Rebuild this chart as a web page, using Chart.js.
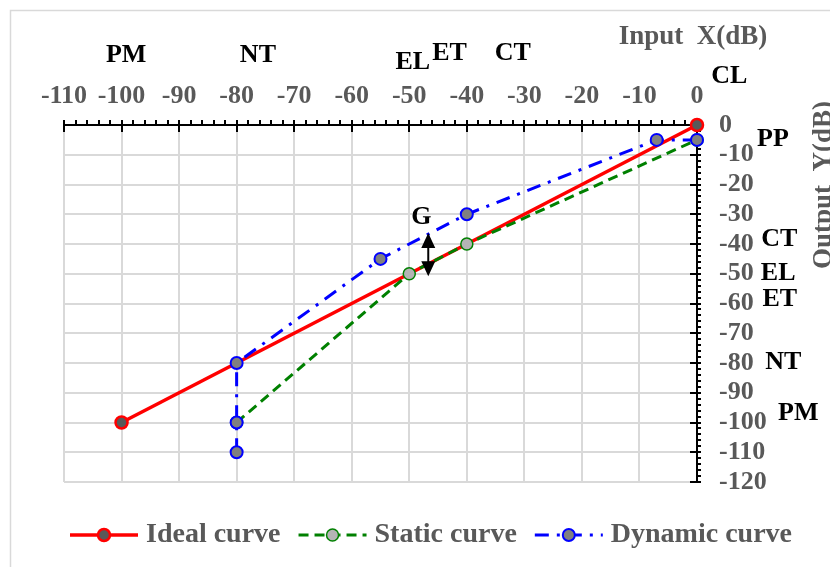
<!DOCTYPE html>
<html>
<head>
<meta charset="utf-8">
<title>Input / Output curves</title>
<script src="https://cdn.jsdelivr.net/npm/chart.js@4.4.1/dist/chart.umd.min.js"></script>
<style>
  html, body { margin: 0; padding: 0; background: #ffffff; }
  #wrap { width: 830px; height: 567px; position: relative; }
</style>
</head>
<body>
<div id="wrap"><canvas id="chart" width="830" height="567"></canvas></div>
<script>
// ---- data -------------------------------------------------------------
const seriesNames = ['Ideal curve', 'Static curve', 'Dynamic curve'];

const idealX = [-100, 0];
const idealY = [-100, 0];

const staticX = [-80, -50, -40, 0];
const staticY = [-100, -50, -40, -5];

const dynamicX = [-80, -80, -80, -55, -40, -7, 0];
const dynamicY = [-110, -100, -80, -45, -30, -5, -5];

const xTickValues = [-110, -100, -90, -80, -70, -60, -50, -40, -30, -20, -10, 0];
const yTickValues = [0, -10, -20, -30, -40, -50, -60, -70, -80, -90, -100, -110, -120];

const xTitle = 'Input  X(dB)';
const yTitle = 'Output  Y(dB)';

// region names marked along each axis, and the gap marker
const topNames = ['PM', 'NT', 'EL', 'ET', 'CT', 'CL'];
const sideNames = ['PP', 'CT', 'EL', 'ET', 'NT', 'PM'];
const gapName = 'G';

// ---- placement of the annotations (in axis units) ----------------------
const topNamePos = [[-99.2, 23.5], [-76.3, 23.5], [-49.4, 21.2], [-43.0, 24.2], [-32.0, 24.2], [5.6, 16.5]];
const sideNamePos = [[13.2, -4.7], [14.3, -38.3], [14.1, -49.7], [14.4, -58.5], [15.0, -79.7], [17.6, -96.8]];
const gapLabelPos = [-47.9, -31.0];
const gapArrow = { x: -46.7, from: -36.3, to: -50.8 };

const SERIF = '"Liberation Serif", "Times New Roman", serif';
const GREY_TEXT = '#595959';
const GRID = '#d9d9d9';

const toPoints = (xs, ys) => xs.map((x, i) => ({ x: x, y: ys[i] }));

const datasets = [
  {
    label: seriesNames[0],
    data: toPoints(idealX, idealY),
    borderColor: '#ff0000',
    borderWidth: 3.5,
    pointRadius: 6,
    pointBorderWidth: 2.5,
    pointBackgroundColor: '#595959',
    pointBorderColor: '#ff0000',
    clip: false,
    order: 3
  },
  {
    label: seriesNames[1],
    data: toPoints(staticX, staticY),
    borderColor: '#008000',
    borderWidth: 3,
    borderDash: [10, 6],
    pointRadius: 6,
    pointBorderWidth: 1.5,
    pointBackgroundColor: '#b4b4b4',
    pointBorderColor: '#008000',
    clip: false,
    order: 2
  },
  {
    label: seriesNames[2],
    data: toPoints(dynamicX, dynamicY),
    borderColor: '#0000ff',
    borderWidth: 3,
    borderDash: [14, 8, 3, 8],
    pointRadius: 6,
    pointBorderWidth: 2,
    pointBackgroundColor: '#808080',
    pointBorderColor: '#0000ff',
    clip: false,
    order: 1
  }
];

// outer frame of the chart
const framePlugin = {
  id: 'frame',
  beforeDraw(chart) {
    const ctx = chart.ctx;
    ctx.save();
    ctx.fillStyle = '#ffffff';
    ctx.fillRect(0, 0, chart.width, chart.height);
    ctx.strokeStyle = GRID;
    ctx.lineWidth = 1.5;
    ctx.strokeRect(10.5, 10.5, chart.width + 40, chart.height + 40);
    ctx.restore();
  }
};

// axis lines with crossing major ticks and outside minor ticks
const axisPlugin = {
  id: 'axisTicks',
  beforeDatasetsDraw(chart) {
    const ctx = chart.ctx;
    const xs = chart.scales.x, ys = chart.scales.y;
    const a = chart.chartArea;
    ctx.save();
    ctx.strokeStyle = '#000000';
    ctx.lineWidth = 2;
    ctx.lineCap = 'butt';
    ctx.beginPath();
    // top axis
    ctx.moveTo(a.left, a.top);
    ctx.lineTo(a.right, a.top);
    for (let v = xs.min; v <= xs.max + 1e-9; v += 2) {
      const px = Math.round(xs.getPixelForValue(v));
      const major = Math.abs(v % 10) < 1e-9;
      ctx.moveTo(px, a.top - 5);
      ctx.lineTo(px, major ? a.top + 7 : a.top);
    }
    // right axis
    ctx.moveTo(a.right, a.top);
    ctx.lineTo(a.right, a.bottom);
    for (let v = ys.max; v >= ys.min - 1e-9; v -= 2) {
      const py = Math.round(ys.getPixelForValue(v));
      const major = Math.abs(v % 10) < 1e-9;
      ctx.moveTo(major ? a.right - 7 : a.right, py);
      ctx.lineTo(a.right + 4, py);
    }
    ctx.stroke();
    ctx.restore();
  }
};

// names, gap arrow, titles and legend
const notesPlugin = {
  id: 'notes',
  afterDatasetsDraw(chart) {
    const ctx = chart.ctx;
    const xs = chart.scales.x, ys = chart.scales.y;
    ctx.save();

    ctx.fillStyle = '#000000';
    ctx.font = 'bold 26px ' + SERIF;
    ctx.textAlign = 'center';
    ctx.textBaseline = 'middle';
    topNames.forEach((t, i) => {
      ctx.fillText(t, xs.getPixelForValue(topNamePos[i][0]), ys.getPixelForValue(topNamePos[i][1]));
    });
    sideNames.forEach((t, i) => {
      ctx.fillText(t, xs.getPixelForValue(sideNamePos[i][0]), ys.getPixelForValue(sideNamePos[i][1]));
    });
    ctx.fillText(gapName, xs.getPixelForValue(gapLabelPos[0]), ys.getPixelForValue(gapLabelPos[1]));

    // double-headed arrow
    const ax = xs.getPixelForValue(gapArrow.x);
    const ay1 = ys.getPixelForValue(gapArrow.from);
    const ay2 = ys.getPixelForValue(gapArrow.to);
    const head = 15, half = 7;
    ctx.strokeStyle = '#000000';
    ctx.lineWidth = 2;
    ctx.beginPath();
    ctx.moveTo(ax, ay1 + head - 1);
    ctx.lineTo(ax, ay2 - head + 1);
    ctx.stroke();
    ctx.beginPath();
    ctx.moveTo(ax, ay1);
    ctx.lineTo(ax - half, ay1 + head);
    ctx.lineTo(ax + half, ay1 + head);
    ctx.closePath();
    ctx.moveTo(ax, ay2);
    ctx.lineTo(ax - half, ay2 - head);
    ctx.lineTo(ax + half, ay2 - head);
    ctx.closePath();
    ctx.fill();

    // axis titles
    ctx.fillStyle = GREY_TEXT;
    ctx.font = 'bold 27px ' + SERIF;
    ctx.textAlign = 'center';
    ctx.textBaseline = 'middle';
    ctx.fillText(xTitle, 693, 37);
    ctx.save();
    ctx.translate(831, 185);
    ctx.rotate(-Math.PI / 2);
    ctx.textBaseline = 'alphabetic';
    ctx.fillText(yTitle, 0, 0);
    ctx.restore();

    // legend
    const ly = 535;
    const sampleW = 68, textGap = 8, itemGap = 18;
    let lx = 70;
    ctx.font = 'bold 28px ' + SERIF;
    chart.data.datasets.forEach((ds) => {
      ctx.save();
      ctx.strokeStyle = ds.borderColor;
      ctx.lineWidth = ds.borderWidth;
      ctx.setLineDash(ds.borderDash || []);
      ctx.beginPath();
      ctx.moveTo(lx, ly);
      ctx.lineTo(lx + sampleW, ly);
      ctx.stroke();
      ctx.setLineDash([]);
      ctx.beginPath();
      ctx.arc(lx + sampleW / 2, ly, ds.pointRadius, 0, Math.PI * 2);
      ctx.fillStyle = ds.pointBackgroundColor;
      ctx.fill();
      ctx.lineWidth = ds.pointBorderWidth;
      ctx.strokeStyle = ds.pointBorderColor;
      ctx.stroke();
      ctx.restore();
      ctx.fillStyle = GREY_TEXT;
      ctx.textAlign = 'left';
      ctx.textBaseline = 'middle';
      const tx = lx + sampleW + textGap;
      ctx.fillText(ds.label, tx, ly);
      lx = tx + ctx.measureText(ds.label).width + itemGap;
    });

    ctx.restore();
  }
};

const tickFont = { family: SERIF, size: 26, weight: 'bold' };

new Chart(document.getElementById('chart'), {
  type: 'scatter',
  data: { datasets: datasets },
  options: {
    responsive: false,
    animation: false,
    showLine: true,
    layout: { padding: { left: 64, right: 0, top: 0, bottom: 85 } },
    elements: { line: { tension: 0, fill: false } },
    plugins: { legend: { display: false }, tooltip: { enabled: false } },
    scales: {
      x: {
        type: 'linear',
        position: 'top',
        min: -110,
        max: 0,
        afterBuildTicks: (s) => { s.ticks = xTickValues.map(v => ({ value: v })); },
        afterFit: (s) => { s.height = 125; },
        ticks: { font: tickFont, color: GREY_TEXT, padding: 13, maxRotation: 0, autoSkip: false },
        grid: {
          drawTicks: false,
          lineWidth: 2,
          color: (c) => (c.tick && c.tick.value === 0 ? 'rgba(0,0,0,0)' : GRID)
        },
        border: { display: false }
      },
      y: {
        type: 'linear',
        position: 'right',
        min: -120,
        max: 0,
        afterBuildTicks: (s) => { s.ticks = yTickValues.map(v => ({ value: v })); },
        afterFit: (s) => { s.width = 133; },
        ticks: { font: tickFont, color: GREY_TEXT, padding: 22, autoSkip: false },
        grid: {
          drawTicks: false,
          lineWidth: 2,
          color: (c) => (c.tick && c.tick.value === 0 ? 'rgba(0,0,0,0)' : GRID)
        },
        border: { display: false }
      }
    }
  },
  plugins: [framePlugin, axisPlugin, notesPlugin]
});
</script>
</body>
</html>
